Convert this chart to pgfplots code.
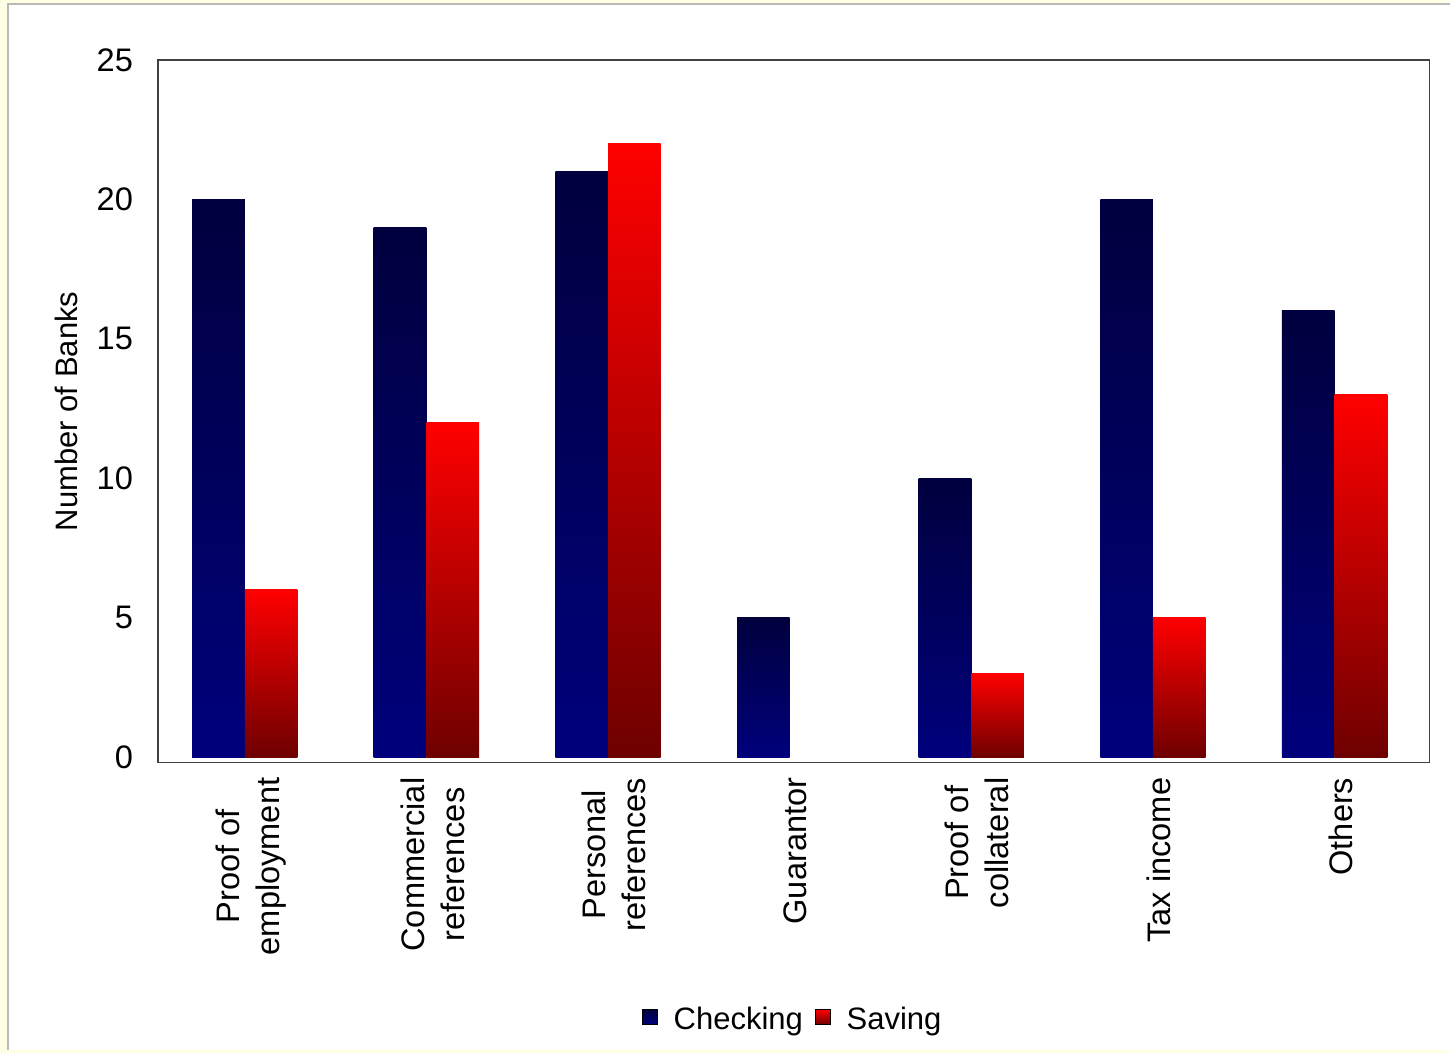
\documentclass[border=0pt]{standalone}
\usepackage{pgfplots}
\pgfplotsset{compat=1.18}
\usepackage{fontspec}
\setmainfont{Liberation Sans}

\definecolor{chkTop}{HTML}{00003E}
\definecolor{chkBot}{HTML}{00007C}
\definecolor{savTop}{HTML}{FF0000}
\definecolor{savMid}{HTML}{CC0000}
\definecolor{savBot}{HTML}{6E0000}
\definecolor{pagebg}{HTML}{FFFFE6}
\definecolor{frame}{HTML}{404040}

\newcommand{\lblfont}{\fontsize{15.5bp}{20bp}\selectfont}
\newcommand{\catfont}{\fontsize{16.3bp}{20bp}\selectfont}

% each bar is its own plot so that its gradient runs over the bar alone
\pgfplotsset{
  chk/.style={ybar, bar width=0.29, bar shift=-0.145, draw=none,
    top color=chkTop, bottom color=chkBot, forget plot},
  sav/.style={ybar, bar width=0.29, bar shift=0.145, draw=none,
    top color=savTop, middle color=savMid, bottom color=savBot, forget plot},
}

\begin{document}
\begin{tikzpicture}
% slide background
\fill[pagebg] (0,0) rectangle (725.5bp,526.5bp);
\fill[white] (4bp,1.5bp) rectangle (725.5bp,524.5bp);
\draw[gray!55, line width=0.6bp] (4bp,1.5bp) -- (4bp,524.5bp) -- (725.5bp,524.5bp);
\path[use as bounding box] (0,0) rectangle (725.5bp,526.5bp);

\begin{axis}[
  at={(79bp,145bp)}, anchor=south west,
  scale only axis, width=636bp, height=351.5bp,
  xmin=-0.478, xmax=6.522, ymin=-0.2, ymax=25,
  axis line style={draw=frame, line width=0.8bp},
  major tick length=0pt,
  /pgf/number format/assume math mode=true,
  ytick={0,5,10,15,20,25},
  xtick={0,1,2,3,4,5,6},
  xticklabels={{Proof of\\employment},{Commercial\\references},{Personal\\references},{Guarantor},{Proof of\\collateral},{Tax income},{Others}},
  xticklabel style={xshift=3bp, rotate=90, anchor=east, align=center, font=\catfont},
  xticklabel shift=4bp,
  yticklabel style={font=\catfont},
  yticklabel shift=9bp,
  ylabel={Number of Banks},
  every axis y label/.style={at={(axis description cs:0,0.5)}, xshift=-46bp, rotate=90, anchor=center, font=\lblfont},
  legend style={at={(axis description cs:0.5,0)}, anchor=center, yshift=-128.5bp,
    draw=none, fill=none, font=\lblfont, legend columns=-1,
    /tikz/every even column/.append style={column sep=4bp},
    /tikz/every odd column/.append style={column sep=6bp}},
  legend cell align=left,
]
% Checking
\addplot[chk] coordinates {(0,20)};
\addplot[chk] coordinates {(1,19)};
\addplot[chk] coordinates {(2,21)};
\addplot[chk] coordinates {(3,5)};
\addplot[chk] coordinates {(4,10)};
\addplot[chk] coordinates {(5,20)};
\addplot[chk] coordinates {(6,16)};
% Saving (Guarantor: 0)
\addplot[sav] coordinates {(0,6)};
\addplot[sav] coordinates {(1,12)};
\addplot[sav] coordinates {(2,22)};
\addplot[sav] coordinates {(4,3)};
\addplot[sav] coordinates {(5,5)};
\addplot[sav] coordinates {(6,13)};

\addlegendimage{legend image code/.code={\shade[top color=chkTop, bottom color=chkBot] (0bp,-2.5bp) rectangle (7.5bp,5bp);}}
\addlegendentry{Checking}
\addlegendimage{legend image code/.code={\shade[top color=savTop, bottom color=savBot] (0bp,-2.5bp) rectangle (7.5bp,5bp);}}
\addlegendentry{Saving}
\end{axis}
\end{tikzpicture}
\end{document}
